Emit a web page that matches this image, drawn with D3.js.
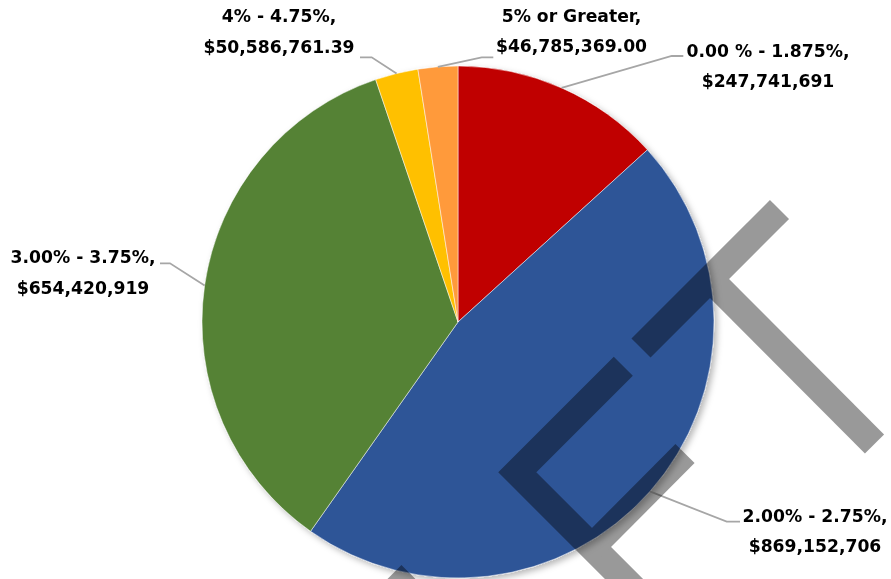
<!DOCTYPE html>
<html>
<head>
<meta charset="utf-8">
<script src="https://cdn.jsdelivr.net/npm/d3@7/dist/d3.min.js"></script>
<style>
  html, body { margin: 0; padding: 0; background: #fff; }
  svg { display: block; }
  .lbl { font-family: "DejaVu Sans", sans-serif; font-weight: bold; font-size: 17.2px; fill: #000; }
</style>
</head>
<body>
<svg id="chart" width="891" height="579"></svg>
<script>
// Portfolio balance by interest-rate band
const categories = ["0.00 % - 1.875%", "2.00% - 2.75%", "3.00% - 3.75%", "4% - 4.75%", "5% or Greater"];
const amounts = [247741691, 869152706, 654420919, 50586761.39, 46785369.00];
const amountDecimals = [0, 0, 0, 2, 2];
const colors = ["#C00000", "#2F5597", "#548235", "#FFC000", "#FF9A3A"];

// Label placement: leader elbow, leader end, text centre and first baseline
const labelLayout = [
  { elbow: [671.7, 56],    end: [683.3, 56],    tx: 768,   ty: 56.7 },
  { elbow: [726.7, 521.7], end: [740, 521.7],   tx: 815,   ty: 521.7 },
  { elbow: [170, 263.3],   end: [160, 263.3],   tx: 83,    ty: 263.3 },
  { elbow: [371.7, 57.3],  end: [360, 57.3],    tx: 279,   ty: 22.3 },
  { elbow: [481.7, 57.3],  end: [493.3, 57.3],  tx: 571.5, ty: 21.7 }
];

// Decorative logo strokes drawn over the chart (x1, y1, x2, y2, ...)
const logoStrokes = [
  [779.5, 209.5, 641, 348],
  [710, 279, 874.5, 444],
  [623.3, 366.3, 517.3, 472.3, 700, 655],
  [685, 453.5, 592, 547],
  [411, 574.5, 370, 615.5]
];

const cx = 458, cy = 322, radius = 256;
const lineGap = 30.6;

const svg = d3.select("#chart");

const defs = svg.append("defs");
const shadow = defs.append("filter").attr("id", "pieShadow")
  .attr("x", "-10%").attr("y", "-10%").attr("width", "120%").attr("height", "120%");
shadow.append("feDropShadow")
  .attr("dx", 3).attr("dy", 3).attr("stdDeviation", 3)
  .attr("flood-color", "#000").attr("flood-opacity", 0.28);

const pie = d3.pie().sort(null).value(d => d.value).startAngle(0).endAngle(2 * Math.PI);
const data = categories.map((c, i) => ({ name: c, value: amounts[i], dec: amountDecimals[i], color: colors[i], layout: labelLayout[i] }));
const arcs = pie(data);

const arc = d3.arc().innerRadius(0).outerRadius(radius);
const edgeArc = d3.arc().innerRadius(radius).outerRadius(radius);

const g = svg.append("g").attr("transform", `translate(${cx},${cy})`);

g.append("g").attr("filter", "url(#pieShadow)")
  .selectAll("path").data(arcs).join("path")
  .attr("d", arc)
  .attr("fill", d => d.data.color)
  .attr("stroke", "#fff")
  .attr("stroke-width", 0.5);

// Leader lines
svg.append("g").selectAll("polyline").data(arcs).join("polyline")
  .attr("points", d => {
    const p = edgeArc.centroid(d);
    const L = d.data.layout;
    return [[p[0] + cx, p[1] + cy], L.elbow, L.end].map(q => q.join(",")).join(" ");
  })
  .attr("fill", "none")
  .attr("stroke", "#A6A6A6")
  .attr("stroke-width", 1.8);

// Labels
const fmt0 = d3.format("$,.0f"), fmt2 = d3.format("$,.2f");
const labels = svg.append("g").selectAll("text").data(arcs).join("text")
  .attr("class", "lbl")
  .attr("text-anchor", "middle");
labels.append("tspan")
  .attr("x", d => d.data.layout.tx)
  .attr("y", d => d.data.layout.ty)
  .text(d => d.data.name + ",");
labels.append("tspan")
  .attr("x", d => d.data.layout.tx)
  .attr("y", d => d.data.layout.ty + lineGap)
  .text(d => (d.data.dec ? fmt2 : fmt0)(d.data.value));

// Logo overlay
const logo = svg.append("g").style("mix-blend-mode", "multiply");
logo.selectAll("polyline").data(logoStrokes).join("polyline")
  .attr("points", d => d3.range(0, d.length, 2).map(i => d[i] + "," + d[i + 1]).join(" "))
  .attr("fill", "none")
  .attr("stroke", "#999")
  .attr("stroke-width", 27)
  .attr("stroke-linejoin", "miter")
  .attr("stroke-linecap", "butt");
</script>
</body>
</html>
